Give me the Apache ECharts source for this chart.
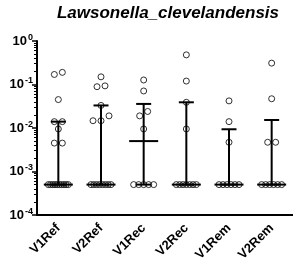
<!DOCTYPE html>
<html>
<head>
<meta charset="utf-8">
<script src="https://cdn.jsdelivr.net/npm/echarts@6/dist/echarts.min.js"></script>
<style>
  html, body { margin: 0; padding: 0; background: #fff; }
  #chart { width: 293px; height: 266px; }
</style>
</head>
<body>
<div id="chart"></div>
<script>
const categories = ['V1Ref', 'V2Ref', 'V1Rec', 'V2Rec', 'V1Rem', 'V2Rem'];

// relative abundance per sample (0.0005 = detection floor)
const v1Ref = [0.0005, 0.0005, 0.0005, 0.0005, 0.0005, 0.0005, 0.0005, 0.0005, 0.0005, 0.0005,
               0.0045, 0.0045, 0.0095, 0.014, 0.014, 0.045, 0.17, 0.19];
const v2Ref = [0.0005, 0.0005, 0.0005, 0.0005, 0.0005, 0.0005, 0.0005, 0.0005,
               0.0147, 0.0147, 0.019, 0.033, 0.089, 0.093, 0.15];
const v1Rec = [0.0005, 0.0005, 0.0005, 0.0005, 0.0005, 0.0095, 0.019, 0.024, 0.071, 0.127];
const v2Rec = [0.0005, 0.0005, 0.0005, 0.0005, 0.0005, 0.0005, 0.0005, 0.0095, 0.039, 0.12, 0.48];
const v1Rem = [0.0005, 0.0005, 0.0005, 0.0005, 0.0005, 0.0005, 0.0047, 0.014, 0.042];
const v2Rem = [0.0005, 0.0005, 0.0005, 0.0005, 0.0005, 0.0005, 0.0047, 0.0047, 0.047, 0.31];

const groups = [v1Ref, v2Ref, v1Rec, v2Rec, v1Rem, v2Rem];
const yTicks = [1e-4, 1e-3, 1e-2, 1e-1, 1];

// percentile the way Prism does it: rank p*(n+1), interpolated
function quantile(sorted, p){
  const n = sorted.length;
  let pos = p * (n + 1);
  if (pos <= 1) return sorted[0];
  if (pos >= n) return sorted[n - 1];
  const lo = Math.floor(pos);
  const f = pos - lo;
  return sorted[lo - 1] + f * (sorted[lo] - sorted[lo - 1]);
}

const stats = groups.map((vals, i) => {
  const s = vals.slice().sort((a, b) => a - b);
  return [i, quantile(s, 0.5), quantile(s, 0.25), quantile(s, 0.75)];
});

// spread points that sit on (nearly) the same height side by side
const points = [];
groups.forEach((vals, gi) => {
  const s = vals.slice().sort((a, b) => a - b);
  let row = [];
  const flush = () => {
    const n = row.length;
    const step = n > 1 ? Math.min(8, 20 / (n - 1)) : 0;
    row.forEach((v, k) => {
      points.push({ value: [gi, v], symbolOffset: [(k - (n - 1) / 2) * step, 0] });
    });
    row = [];
  };
  s.forEach(v => {
    if (row.length && Math.log10(v) - Math.log10(row[0]) > 0.12) flush();
    row.push(v);
  });
  flush();
});

const font = '"Liberation Sans", Arial, sans-serif';
const chart = echarts.init(document.getElementById('chart'), null, { renderer: 'canvas' });

chart.setOption({
  animation: false,
  backgroundColor: '#fff',
  title: {
    text: 'Lawsonella_clevelandensis',
    left: 168,
    top: 5,
    padding: 0,
    textAlign: 'center',
    textStyle: { fontFamily: font, fontSize: 17, fontWeight: 'bold', fontStyle: 'italic', color: '#000' }
  },
  grid: { left: 37, right: -6, top: 41, bottom: 51, containLabel: false },
  xAxis: {
    type: 'category',
    data: categories,
    boundaryGap: true,
    axisLine: { lineStyle: { color: '#000', width: 2 } },
    axisTick: { alignWithLabel: true, length: 4, lineStyle: { color: '#000', width: 1.5 } },
    axisLabel: {
      interval: 0, rotate: 45, margin: 11,
      fontFamily: font, fontSize: 13, fontWeight: 'bold', color: '#000'
    },
    splitLine: { show: false }
  },
  yAxis: {
    type: 'log',
    logBase: 10,
    min: yTicks[0],
    max: yTicks[yTicks.length - 1],
    axisLine: { show: true, lineStyle: { color: '#000', width: 2 } },
    axisTick: { show: true, length: 5, lineStyle: { color: '#000', width: 1.5 } },
    minorTick: { show: true, splitNumber: 9, length: 3, lineStyle: { color: '#000', width: 1 } },
    splitLine: { show: false },
    axisLabel: {
      margin: 4,
      formatter: v => '{b|10}{s|' + Math.round(Math.log10(v)) + '}',
      rich: {
        b: { fontFamily: font, fontSize: 13, fontWeight: 'bold', color: '#000' },
        s: { fontFamily: font, fontSize: 9, fontWeight: 'bold', color: '#000', padding: [0, 0, 7, 1] }
      }
    }
  },
  series: [
    {
      type: 'scatter',
      data: points,
      symbol: 'circle',
      symbolSize: 6,
      itemStyle: { color: 'rgba(0,0,0,0)', borderColor: '#000', borderWidth: 1 },
      z: 2
    },
    {
      type: 'custom',
      data: stats,
      z: 3,
      renderItem(params, api){
        const x = api.value(0);
        const med = api.coord([x, api.value(1)]);
        const lo = api.coord([x, api.value(2)]);
        const hi = api.coord([x, api.value(3)]);
        const st = { stroke: '#000', lineWidth: 2 };
        const seg = (x1, y1, x2, y2) => ({ type: 'line', shape: { x1, y1, x2, y2 }, style: st });
        return {
          type: 'group',
          children: [
            seg(med[0], lo[1], med[0], hi[1]),
            seg(hi[0] - 7.5, hi[1], hi[0] + 7.5, hi[1]),
            seg(lo[0] - 7.5, lo[1], lo[0] + 7.5, lo[1]),
            seg(med[0] - 14.5, med[1], med[0] + 14.5, med[1])
          ]
        };
      }
    }
  ]
});
</script>
</body>
</html>
